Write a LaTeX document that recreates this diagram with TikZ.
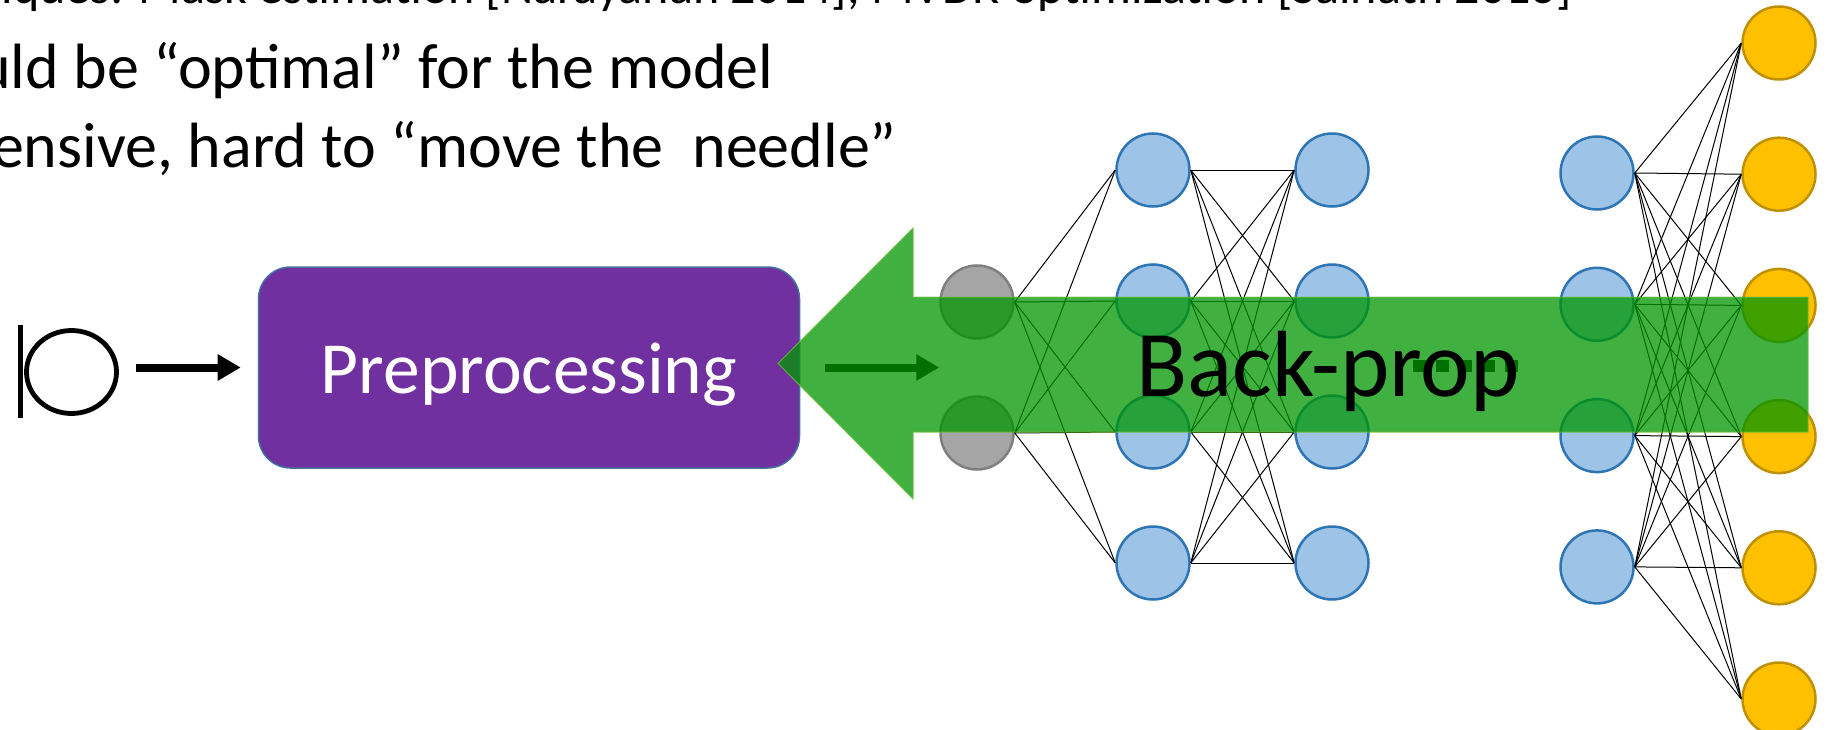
\documentclass[tikz,border=0pt]{standalone}
\usepackage{fontspec}
\setmainfont{Carlito}
\usetikzlibrary{arrows.meta,shapes.geometric}

\definecolor{pptpurple}{RGB}{112,48,160}
\definecolor{boxedge}{RGB}{65,113,156}
\definecolor{nnblue}{RGB}{157,195,230}
\definecolor{nnblueedge}{RGB}{46,117,182}
\definecolor{nngray}{RGB}{165,165,165}
\definecolor{nngrayedge}{RGB}{127,127,127}
\definecolor{nnorange}{RGB}{255,192,0}
\definecolor{nnorangeedge}{RGB}{191,144,0}
\definecolor{bpgreen}{RGB}{0,150,0}
\definecolor{bpedge}{RGB}{110,190,60}

\begin{document}
\begin{tikzpicture}[x=1bp,y=-1bp,
  neuron/.style={circle, minimum size=73bp, inner sep=0pt, line width=2.5bp},
  hid/.style={neuron, fill=nnblue, draw=nnblueedge},
  inp/.style={neuron, fill=nngray, draw=nngrayedge},
  outp/.style={neuron, fill=nnorange, draw=nnorangeedge},
  wire/.style={line width=1bp, black},
  flow/.style={line width=8bp, -{Triangle[length=23bp,width=25bp]}},
  bullet/.style={anchor=base east, inner sep=0pt, font=\fontsize{64bp}{77bp}\selectfont},
  subbullet/.style={anchor=base east, inner sep=0pt, font=\fontsize{50bp}{60bp}\selectfont},
]
\useasboundingbox (0,0) rectangle (1829,730);
\clip (0,0) rectangle (1829,730);

% bullet text
\node[subbullet] (t1) at (1572,4) {Techniques: Mask estimation [Narayanan 2014], MVDR optimization [Sainath 2016]};
\node[bullet] (t2) at (774,89) {Should be “optimal” for the model};
\node[bullet] (t3) at (897,168) {Expensive, hard to “move the~ needle”};

% signal symbol
\draw[line width=4.8bp] (20.7,325) -- (20.7,418);
\node[ellipse, draw, line width=4.8bp, minimum width=90bp, minimum height=83bp, inner sep=0pt] (ring) at (71.5,372) {};

% preprocessing block
\node[draw=boxedge, line width=1.5bp, fill=pptpurple, rounded corners=32bp,
      minimum width=541bp, minimum height=201bp, text=white,
      text height=51bp, text depth=0bp,
      font=\fontsize{73.5bp}{88bp}\selectfont] (pre) at (529,367.5) {Preprocessing};

% network layers
\node[inp] (a1) at (977,302) {};
\node[inp] (a2) at (977,433) {};
\foreach \j/\y in {1/170,2/301,3/432,4/563} {
  \node[hid] (b\j) at (1153,\y) {};
  \node[hid] (c\j) at (1332,\y) {};
}
\foreach \j/\y in {1/173,2/304.3,3/435.6,4/566.9}
  \node[hid] (d\j) at (1597,\y) {};
\foreach \j/\y in {1/43,2/174.2,3/305.4,4/436.6,5/567.8,6/699}
  \node[outp] (e\j) at (1779,\y) {};

% connections
\foreach \i in {1,2} \foreach \j in {1,...,4} \draw[wire] (a\i.east) -- (b\j.west);
\foreach \i in {1,...,4} \foreach \j in {1,...,4} \draw[wire] (b\i.east) -- (c\j.west);
\foreach \i in {1,...,4} \foreach \j in {1,...,6} \draw[wire] (d\i.east) -- (e\j.west);

% ellipsis between hidden layers
\foreach \k in {0,...,4} \fill (1413+23*\k,360) rectangle ++(13,12);

% flow arrows
\draw[flow, shorten <=17bp] (ring.east |- pre.west) -- ([xshift=-17bp]pre.west);
\draw[flow, shorten <=25bp] (pre.east) -- (a1.west |- pre.east);

% back-propagation arrow
\filldraw[fill=bpgreen, fill opacity=0.75, draw=bpedge, draw opacity=0.8, line width=1bp]
  (778,363.5) -- (913,228) -- (913,297) -- (1808,297) -- (1808,432)
  -- (913,432) -- (913,499) -- cycle;
\node[anchor=base, inner sep=0pt, font=\fontsize{94bp}{110bp}\selectfont] (bp) at (1328,396) {Back-prop};
\end{tikzpicture}
\end{document}
